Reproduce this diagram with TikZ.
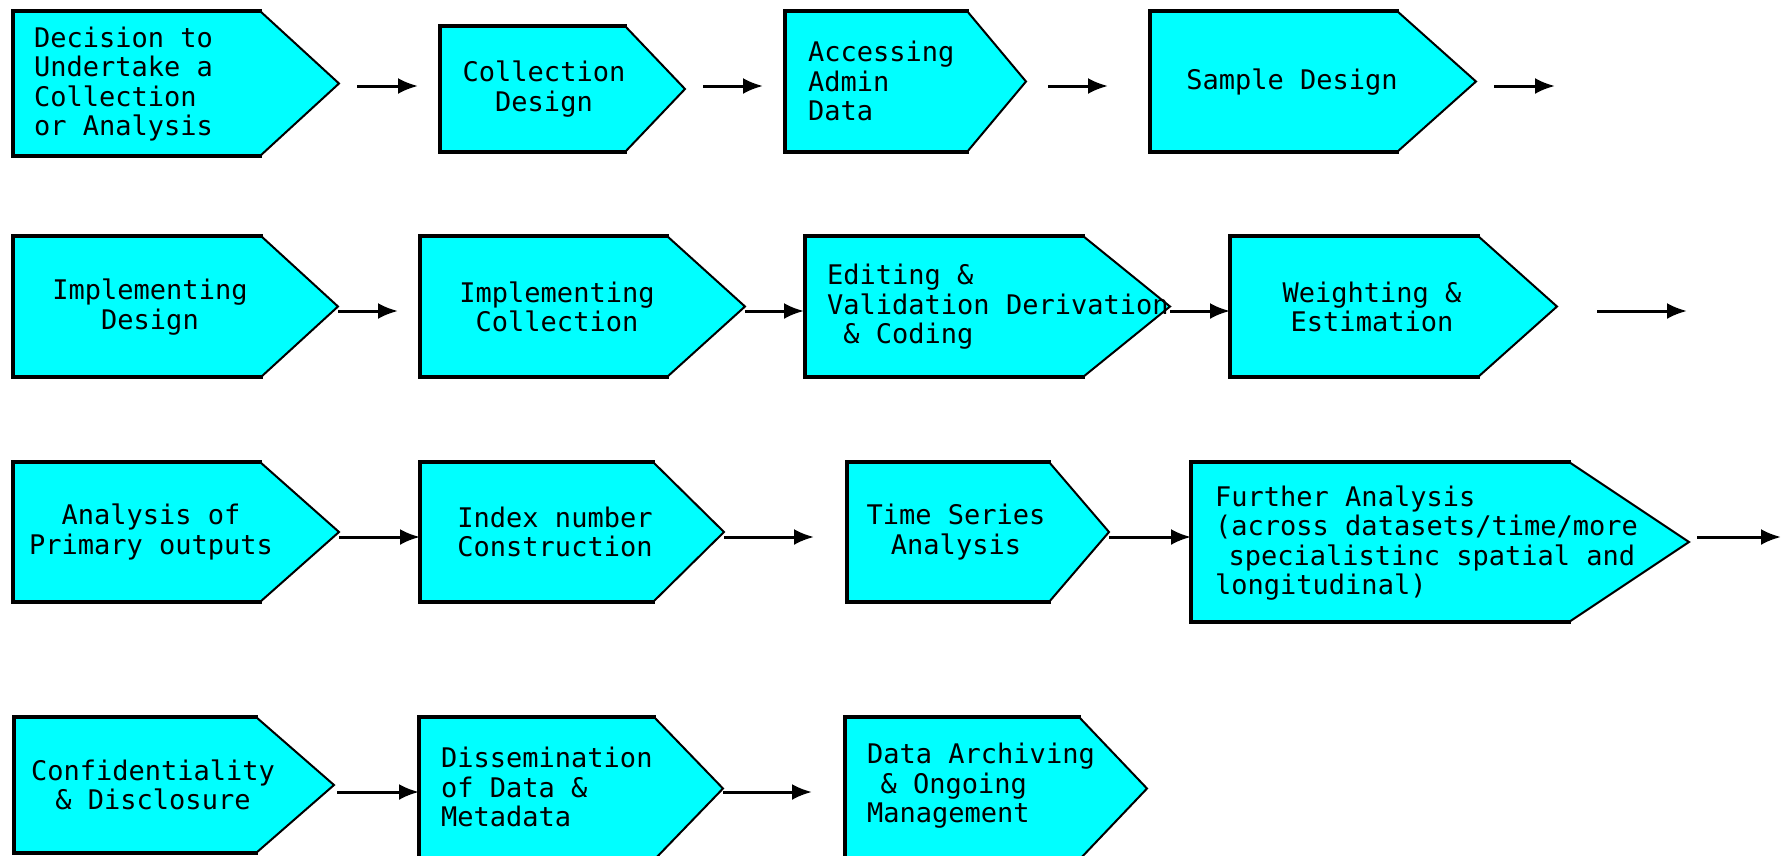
\documentclass[tikz,border=0pt]{standalone}
\usepackage{fontspec}
\usetikzlibrary{arrows.meta, calc, positioning}
\newfontfamily\stepfont{DejaVu Sans Mono}
\definecolor{stepCyan}{RGB}{0,255,255}
\tikzset{
    stepFill/.style={fill=stepCyan, draw=black, line width=2pt, line join=miter},
    stepEdge/.style={draw=black, line width=3.5pt, line cap=rect},
    stepText/.style={font=\stepfont\fontsize{27}{29.5}\selectfont, inner sep=0pt},
    stepLeft/.style={stepText, anchor=west, align=left},
    stepMid/.style={stepText, align=center},
    stepArrow/.style={-{Latex[length=20pt, width=16pt]}, line width=3pt},
}
% box: name, left, slant, tip, top, bottom
\newcommand{\drawStep}[6]{
    \filldraw[stepFill] (#2,#5) -- (#3,#5) -- (#4,{(#5+#6)/2}) -- (#3,#6) -- (#2,#6) -- cycle;
    \draw[stepEdge] (#3,#5) -- (#2,#5) -- (#2,#6) -- (#3,#6);
    \coordinate (#1In) at (#2,{(#5+#6)/2});
    \coordinate (#1Out) at (#4,{(#5+#6)/2});
}
% link: from, to, row, shorten start, shorten end
\newcommand{\drawFlow}[5]{
    \draw[stepArrow, shorten <=#4pt, shorten >=#5pt] (#1Out |- #3) -- (#2In |- #3);
}

\begin{document}
\begin{tikzpicture}[x=1pt, y=-1pt]
    \useasboundingbox (0,0) rectangle (1781,855);

    \coordinate (rowOne) at (0,86);
    \coordinate (rowTwo) at (0,311);
    \coordinate (rowThree) at (0,537);
    \coordinate (rowFour) at (0,792);

    % row 1
    \drawStep{decision}{13}{260}{339}{11}{156}
    \drawStep{collDesign}{440}{625}{685}{26}{152}
    \drawStep{admin}{785}{967}{1026}{11}{152}
    \drawStep{sample}{1150}{1397}{1476}{11}{152}
    \coordinate (sampleNextIn) at (1555,86);

    \node[stepLeft] (decisionText) at (34,84) {Decision to\\Undertake a\\Collection\\or Analysis};
    \node[stepMid] (collDesignText) at (544,89) {Collection\\Design};
    \node[stepLeft] (adminText) at (808,81) {Accessing\\Admin\\Data};
    \node[stepMid] (sampleText) at (1292,82) {Sample Design};

    \drawFlow{decision}{collDesign}{rowOne}{18}{22}
    \drawFlow{collDesign}{admin}{rowOne}{18}{22}
    \drawFlow{admin}{sample}{rowOne}{22}{42}
    \drawFlow{sample}{sampleNext}{rowOne}{18}{0}

    % row 2
    \drawStep{implDesign}{13}{261}{338}{236}{377}
    \drawStep{implColl}{420}{667}{745}{236}{377}
    \drawStep{editing}{805}{1083}{1170}{236}{377}
    \drawStep{weighting}{1230}{1478}{1557}{236}{377}
    \coordinate (weightingNextIn) at (1687,311);

    \node[stepMid] (implDesignText) at (150,307) {Implementing\\Design};
    \node[stepMid] (implCollText) at (557,307) {Implementing\\Collection};
    \node[stepLeft] (editingText) at (827,307) {Editing \&\\Validation Derivation\\\hspace*{0.6em}\& Coding};
    \node[stepMid] (weightingText) at (1372,307) {Weighting \&\\Estimation};

    \drawFlow{implDesign}{implColl}{rowTwo}{0}{22}
    \drawFlow{implColl}{editing}{rowTwo}{0}{1}
    \drawFlow{editing}{weighting}{rowTwo}{0}{0}
    \drawFlow{weighting}{weightingNext}{rowTwo}{40}{0}

    % row 3
    \drawStep{primary}{13}{260}{339}{462}{602}
    \drawStep{index}{420}{653}{724}{462}{602}
    \drawStep{timeSeries}{847}{1049}{1109}{462}{602}
    \drawStep{further}{1191}{1569}{1689}{462}{622}
    \coordinate (furtherNextIn) at (1781,537);

    \node[stepMid] (primaryText) at (151,532) {Analysis of\\Primary outputs};
    \node[stepMid] (indexText) at (555,532) {Index number\\Construction};
    \node[stepMid] (timeSeriesText) at (956,532) {Time Series\\Analysis};
    \node[stepLeft] (furtherText) at (1215,543) {Further Analysis\\(across datasets/time/more\\\hspace*{0.5em}specialistinc spatial and\\longitudinal)};

    \drawFlow{primary}{index}{rowThree}{0}{0}
    \drawFlow{index}{timeSeries}{rowThree}{0}{33}
    \drawFlow{timeSeries}{further}{rowThree}{0}{0}
    \drawFlow{further}{furtherNext}{rowThree}{8}{0}

    % row 4
    \drawStep{confid}{14}{256}{334}{717}{853}
    \drawStep{dissem}{419}{654}{723}{717}{860}
    \drawStep{archive}{845}{1079}{1147}{717}{860}

    \node[stepMid] (confidText) at (153,785) {Confidentiality\\\& Disclosure};
    \node[stepLeft] (dissemText) at (441,787) {Dissemination\\of Data \&\\Metadata};
    \node[stepLeft] (archiveText) at (867,786) {Data Archiving\\\hspace*{0.5em}\& Ongoing\\Management};

    \drawFlow{confid}{dissem}{rowFour}{3}{0}
    \drawFlow{dissem}{archive}{rowFour}{0}{33}

\end{tikzpicture}
\end{document}
